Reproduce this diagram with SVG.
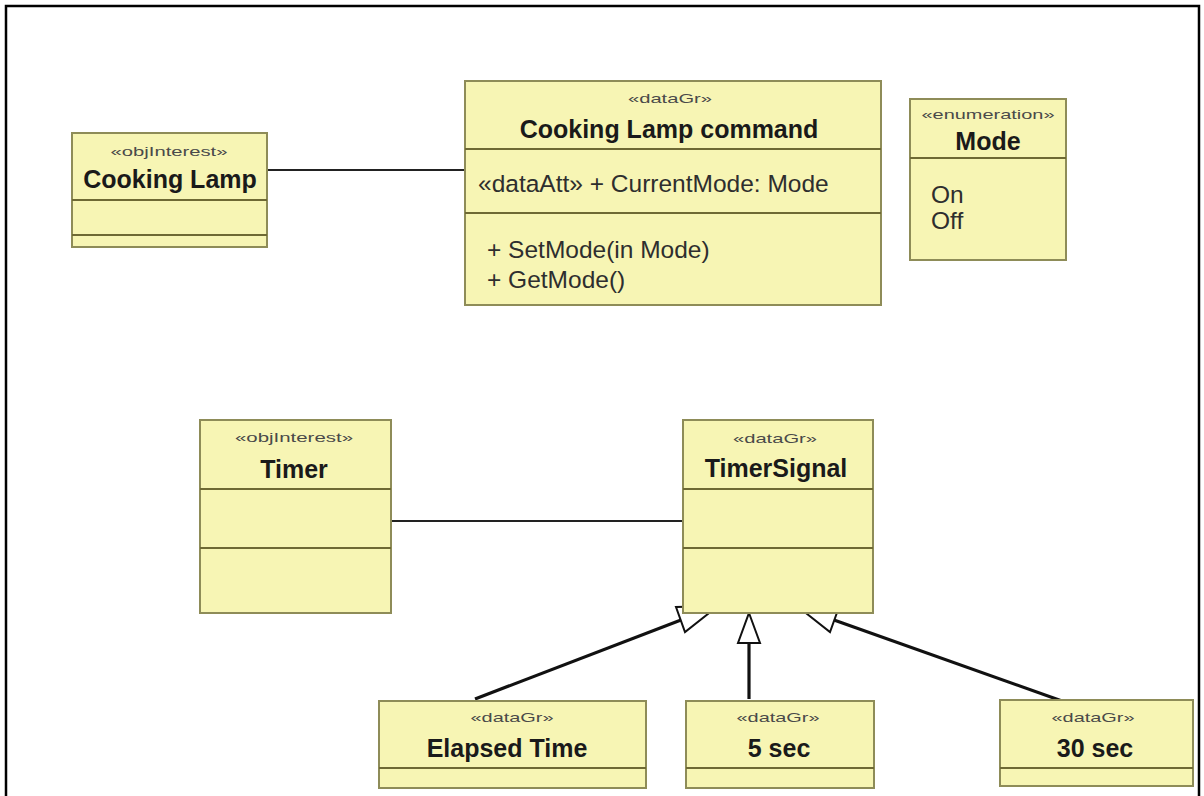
<svg xmlns="http://www.w3.org/2000/svg" width="1204" height="796" viewBox="0 0 1204 796">
<style>
.box{fill:#F7F5B4;stroke:#8E8C58;stroke-width:2}
.div{stroke:#6E6934;stroke-width:2}
.st{font-family:"Liberation Sans",Arial,sans-serif;font-size:13px;fill:#4a4a4a;text-anchor:middle}
.nm{font-family:"Liberation Sans",Arial,sans-serif;font-size:25px;font-weight:bold;fill:#1a1a1a;text-anchor:middle}
.tx{font-family:"Liberation Sans",Arial,sans-serif;font-size:24.5px;fill:#2e2e2e}
.assoc{stroke:#222;stroke-width:1.8;fill:none}
.gen{stroke:#111;stroke-width:3.2;fill:none}
.tri{fill:#fff;stroke:#111;stroke-width:2;stroke-linejoin:miter}
</style>
<rect x="0" y="0" width="1204" height="796" fill="#fff"/>
<path d="M6 796 V6 H1199 V796" fill="none" stroke="#000" stroke-width="2.5"/>
<g id="connectors">
<line class="assoc" x1="267" y1="170" x2="465" y2="170"/>
<line class="assoc" x1="391" y1="521" x2="683" y2="521"/>
<line class="gen" x1="475" y1="699" x2="681" y2="620"/>
<polygon class="tri" points="718,606 685,632 676,607"/>
<line class="gen" x1="749" y1="699" x2="749" y2="643"/>
<polygon class="tri" points="749,613 760,643 738,643"/>
<line class="gen" x1="1062" y1="701" x2="834" y2="620"/>
<polygon class="tri" points="797,606 830,632 839,607"/>
</g>
<g id="cooking-lamp">
<rect class="box" x="72" y="133" width="195" height="114"/>
<line class="div" x1="72" y1="200" x2="267" y2="200"/>
<line class="div" x1="72" y1="235" x2="267" y2="235"/>
<text class="st" x="169" y="156" textLength="117" lengthAdjust="spacingAndGlyphs">«objInterest»</text>
<text class="nm" x="170" y="188">Cooking Lamp</text>
</g>
<g id="cooking-lamp-command">
<rect class="box" x="465" y="81" width="416" height="224"/>
<line class="div" x1="465" y1="149" x2="881" y2="149"/>
<line class="div" x1="465" y1="213" x2="881" y2="213"/>
<text class="st" x="670" y="103" textLength="84" lengthAdjust="spacingAndGlyphs">«dataGr»</text>
<text class="nm" x="669" y="138">Cooking Lamp command</text>
<text class="tx" x="478" y="192">«dataAtt» + CurrentMode: Mode</text>
<text class="tx" x="487" y="258">+ SetMode(in Mode)</text>
<text class="tx" x="487" y="288">+ GetMode()</text>
</g>
<g id="mode">
<rect class="box" x="910" y="99" width="156" height="161"/>
<line class="div" x1="910" y1="158" x2="1066" y2="158"/>
<text class="st" x="988" y="119" textLength="133" lengthAdjust="spacingAndGlyphs">«enumeration»</text>
<text class="nm" x="988" y="150">Mode</text>
<text class="tx" x="931" y="203">On</text>
<text class="tx" x="931" y="229">Off</text>
</g>
<g id="timer">
<rect class="box" x="200" y="420" width="191" height="193"/>
<line class="div" x1="200" y1="489" x2="391" y2="489"/>
<line class="div" x1="200" y1="548" x2="391" y2="548"/>
<text class="st" x="294" y="442" textLength="118" lengthAdjust="spacingAndGlyphs">«objInterest»</text>
<text class="nm" x="294" y="478">Timer</text>
</g>
<g id="timer-signal">
<rect class="box" x="683" y="420" width="190" height="193"/>
<line class="div" x1="683" y1="489" x2="873" y2="489"/>
<line class="div" x1="683" y1="548" x2="873" y2="548"/>
<text class="st" x="775" y="443" textLength="84" lengthAdjust="spacingAndGlyphs">«dataGr»</text>
<text class="nm" x="776" y="477">TimerSignal</text>
</g>
<g id="elapsed-time">
<rect class="box" x="379" y="701" width="267" height="87"/>
<line class="div" x1="379" y1="768" x2="646" y2="768"/>
<text class="st" x="512" y="722" textLength="83" lengthAdjust="spacingAndGlyphs">«dataGr»</text>
<text class="nm" x="507" y="757">Elapsed Time</text>
</g>
<g id="five-sec">
<rect class="box" x="686" y="701" width="188" height="87"/>
<line class="div" x1="686" y1="768" x2="874" y2="768"/>
<text class="st" x="778" y="722" textLength="83" lengthAdjust="spacingAndGlyphs">«dataGr»</text>
<text class="nm" x="779" y="757">5 sec</text>
</g>
<g id="thirty-sec">
<rect class="box" x="1000" y="700" width="193" height="86"/>
<line class="div" x1="1000" y1="768" x2="1193" y2="768"/>
<text class="st" x="1093" y="722" textLength="83" lengthAdjust="spacingAndGlyphs">«dataGr»</text>
<text class="nm" x="1095" y="757">30 sec</text>
</g>
</svg>
